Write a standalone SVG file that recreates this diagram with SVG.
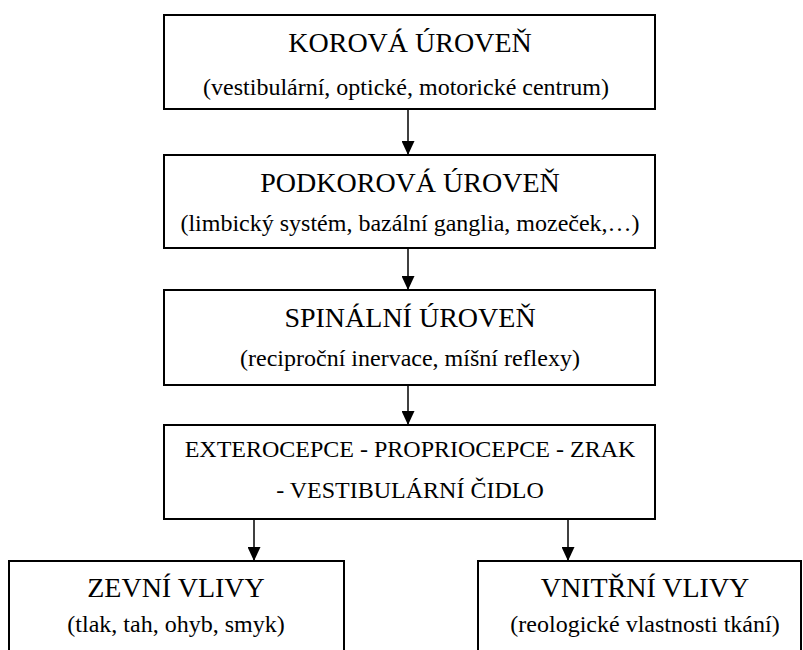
<svg xmlns="http://www.w3.org/2000/svg" width="803" height="650" viewBox="0 0 803 650">
<style>
.box{fill:#fff;stroke:#000;stroke-width:2}
.t{font-size:28px;fill:#000;text-anchor:middle}
.s{font-size:24px;fill:#000;text-anchor:middle}
.c{stroke:#000;stroke-width:1.5;fill:none;marker-end:url(#ah)}
</style>
<defs>
<marker id="ah" markerWidth="14" markerHeight="13" refX="14" refY="6.5" orient="auto" markerUnits="userSpaceOnUse">
<path d="M0,0 L14,6.5 L0,13 Z" fill="#000"/>
</marker>
</defs>
<rect width="803" height="650" fill="#fff"/>
<g font-family="Liberation Serif, DejaVu Serif, serif">
<g id="korova">
<rect class="box" x="164" y="15" width="491" height="94"/>
<text class="t" x="410" y="52">KOROVÁ ÚROVEŇ</text>
<text class="s" x="406" y="95">(vestibulární, optické, motorické centrum)</text>
</g>
<g id="podkorova">
<rect class="box" x="164" y="155" width="491" height="93"/>
<text class="t" x="410" y="192">PODKOROVÁ ÚROVEŇ</text>
<text class="s" x="410" y="231">(limbický systém, bazální ganglia, mozeček,…)</text>
</g>
<g id="spinalni">
<rect class="box" x="164" y="290" width="491" height="95"/>
<text class="t" x="410" y="327">SPINÁLNÍ ÚROVEŇ</text>
<text class="s" x="410" y="366">(reciproční inervace, míšní reflexy)</text>
</g>
<g id="cidla">
<rect class="box" x="164" y="425" width="491" height="94"/>
<text class="s" x="410" y="457">EXTEROCEPCE - PROPRIOCEPCE - ZRAK</text>
<text class="s" x="410" y="498">- VESTIBULÁRNÍ ČIDLO</text>
</g>
<g id="zevni">
<rect class="box" x="9" y="561" width="335" height="110"/>
<text class="t" x="176" y="597">ZEVNÍ VLIVY</text>
<text class="s" x="176" y="632">(tlak, tah, ohyb, smyk)</text>
</g>
<g id="vnitrni">
<rect class="box" x="478" y="561" width="323" height="110"/>
<text class="t" x="645" y="597">VNITŘNÍ VLIVY</text>
<text class="s" x="645" y="632">(reologické vlastnosti tkání)</text>
</g>
</g>
<g id="connectors">
<line class="c" x1="408" y1="109" x2="408" y2="155"/>
<line class="c" x1="408" y1="248" x2="408" y2="290"/>
<line class="c" x1="408" y1="385" x2="408" y2="425"/>
<line class="c" x1="254" y1="519" x2="254" y2="561"/>
<line class="c" x1="568" y1="519" x2="568" y2="561"/>
</g>
</svg>
